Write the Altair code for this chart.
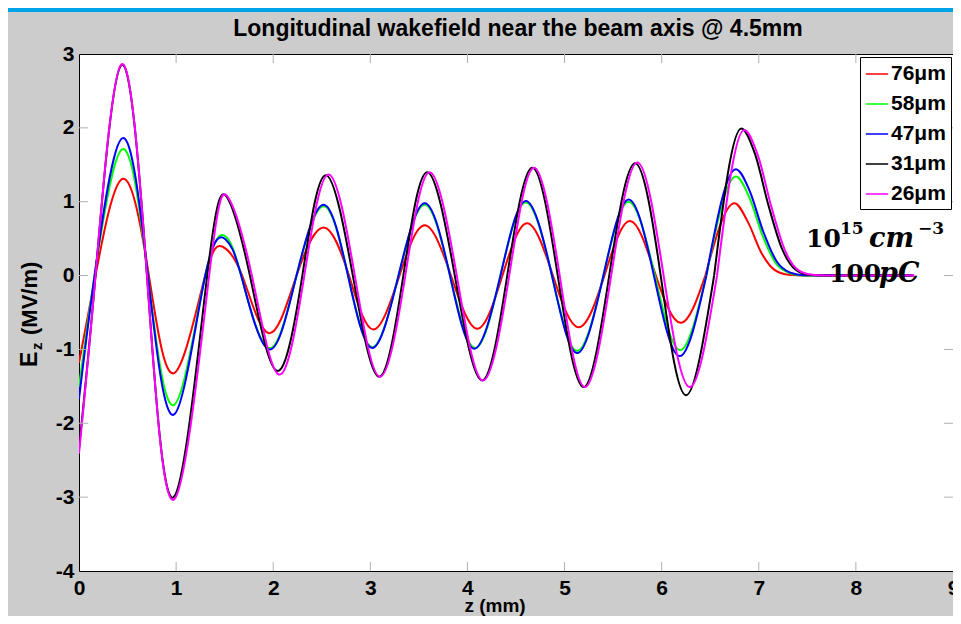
import altair as alt
import pandas as pd

# ---------------- data ----------------
labels = ["76μm", "58μm", "47μm", "31μm", "26μm"]
colors = ["#ff0000", "#00ff00", "#0000ff", "#000000", "#ff00ff"]

z_76 = [0, 0.17, 0.45, 0.72, 0.98, 1.30, 1.48, 1.68, 1.955, 2.24, 2.52, 2.78, 3.03, 3.30, 3.56, 3.83, 4.10, 4.36, 4.615, 4.88, 5.145, 5.41, 5.675, 5.94, 6.20, 6.45, 6.75,
        6.89, 7.03, 7.17, 7.31, 7.45, 8.57]
e_76 = [-1.18, 0, 1.31, 0, -1.32, 0, 0.39, 0, -0.78, 0, 0.65, 0, -0.73, 0, 0.68, 0, -0.72, 0, 0.71, 0, -0.70, 0, 0.74, 0, -0.64, 0, 0.98,
        0.72, 0.30, 0.07, 0.01, 0, 0]

z_58 = [0, 0.16, 0.447, 0.71, 0.98, 1.30, 1.51, 1.67, 1.955, 2.24, 2.52, 2.77, 3.02, 3.29, 3.56, 3.82, 4.08, 4.34, 4.60, 4.87, 5.13, 5.40, 5.66, 5.93, 6.19, 6.46, 6.765,
        6.905, 7.045, 7.185, 7.325, 7.465, 8.585]
e_58 = [-1.51, 0, 1.71, 0, -1.75, 0, 0.53, 0, -0.98, 0, 0.94, 0, -0.97, 0, 0.96, 0, -0.98, 0, 0.99, 0, -1.02, 0, 1.00, 0, -1.01, 0, 1.34,
        1.05, 0.52, 0.15, 0.03, 0, 0]

z_47 = [0, 0.16, 0.447, 0.71, 0.98, 1.30, 1.51, 1.67, 1.955, 2.24, 2.52, 2.77, 3.02, 3.29, 3.56, 3.82, 4.07, 4.34, 4.60, 4.87, 5.13, 5.40, 5.66, 5.92, 6.185, 6.46, 6.765,
        6.905, 7.045, 7.185, 7.325, 7.465, 8.585]
e_47 = [-1.67, 0, 1.86, 0, -1.88, 0, 0.49, 0, -1.00, 0, 0.96, 0, -0.98, 0, 0.98, 0, -0.99, 0, 1.01, 0, -1.05, 0, 1.03, 0, -1.09, 0, 1.44,
        1.15, 0.60, 0.19, 0.04, 0.005, 0]

z_31 = [0, 0.17, 0.437, 0.70, 0.975, 1.32, 1.52, 1.76, 2.04, 2.30, 2.54, 2.82, 3.09, 3.34, 3.585, 3.87, 4.15, 4.41, 4.667, 4.93, 5.195, 5.46, 5.725, 5.99, 6.25, 6.54, 6.82,
        6.96, 7.10, 7.24, 7.38, 7.52, 7.66, 8.60]
e_31 = [-2.35, 0, 2.85, 0, -3.00, 0, 1.07, 0, -1.29, 0, 1.36, 0, -1.37, 0, 1.40, 0, -1.42, 0, 1.46, 0, -1.51, 0, 1.52, 0, -1.62, 0, 1.99,
        1.65, 0.95, 0.36, 0.08, 0.01, 0, 0]

z_26 = [0, 0.17, 0.437, 0.70, 0.98, 1.34, 1.53, 1.78, 2.06, 2.32, 2.57, 2.84, 3.10, 3.36, 3.61, 3.89, 4.16, 4.43, 4.685, 4.95, 5.21, 5.48, 5.75, 6.02, 6.29, 6.57, 6.85,
        6.99, 7.13, 7.27, 7.41, 7.55, 7.69, 8.60]
e_26 = [-2.41, 0, 2.86, 0, -3.03, 0, 1.07, 0, -1.34, 0, 1.37, 0, -1.37, 0, 1.40, 0, -1.42, 0, 1.46, 0, -1.51, 0, 1.53, 0, -1.51, 0, 1.97,
        1.63, 0.93, 0.34, 0.07, 0.01, 0, 0]

# index of the last zero crossing before the final peak (start of the decaying tail)
tail_start = 25

x_ticks = [0, 1, 2, 3, 4, 5, 6, 7, 8, 9]
y_ticks = [-4, -3, -2, -1, 0, 1, 2, 3]
x_inner_ticks = [1, 2, 3, 4, 5, 6, 7, 8]
y_inner_ticks = [-3, -2, -1, 0, 1, 2]

title_text = "Longitudinal wakefield near the beam axis @ 4.5mm"

# ---------------- build tables ----------------
osc_rows, tail_rows = [], []
for lab, zs, es in zip(labels, [z_76, z_58, z_47, z_31, z_26], [e_76, e_58, e_47, e_31, e_26]):
    for i, (z, e) in enumerate(zip(zs, es)):
        r = {"series": lab, "z": z, "Ez": e, "i": i}
        if i <= tail_start:
            osc_rows.append(r)
        if i >= tail_start:
            tail_rows.append(r)
df_osc = pd.DataFrame(osc_rows)
df_tail = pd.DataFrame(tail_rows)

W, H = 874, 517
FONT = "Liberation Sans, Arial, sans-serif"
SERIF = "DejaVu Serif, serif"
TICKC = "#b0b0b0"

x_axis = alt.Axis(values=x_ticks, ticks=False, domain=False, grid=False, title=None,
                  labelFont=FONT, labelFontSize=21, labelFontWeight="bold",
                  labelColor="black", labelPadding=6, labelFlush=False,
                  labelExpr="'' + datum.value")
y_axis = alt.Axis(values=y_ticks, ticks=False, domain=False, grid=False, title=None,
                  labelFont=FONT, labelFontSize=21, labelFontWeight="bold",
                  labelColor="black", labelPadding=5, labelExpr="'' + datum.value")
xs = alt.Scale(domain=[0, 9], nice=False, zero=False)
ys = alt.Scale(domain=[-4, 3], nice=False, zero=False)

color_enc = alt.Color("series:N", sort=labels,
                      scale=alt.Scale(domain=labels, range=colors),
                      legend=alt.Legend(title=None, orient="none", legendX=781, legendY=3,
                                        fillColor="white", strokeColor="black", padding=5,
                                        symbolType="stroke", symbolSize=500,
                                        symbolStrokeWidth=1.5, labelFont=FONT,
                                        labelFontSize=21, labelFontWeight="bold",
                                        labelColor="black", labelOffset=2, rowPadding=8))

osc = alt.Chart(df_osc).mark_line(interpolate="natural", strokeWidth=2, clip=True).encode(
    x=alt.X("z:Q", scale=xs, axis=x_axis),
    y=alt.Y("Ez:Q", scale=ys, axis=y_axis),
    color=color_enc,
    order=alt.Order("i:Q"),
)
tail = alt.Chart(df_tail).mark_line(interpolate="monotone", strokeWidth=2, clip=True).encode(
    x=alt.X("z:Q", scale=xs, axis=x_axis),
    y=alt.Y("Ez:Q", scale=ys, axis=y_axis),
    color=color_enc,
    order=alt.Order("i:Q"),
)

xt_df = pd.DataFrame({"xt": x_inner_ticks})
yt_df = pd.DataFrame({"yt": y_inner_ticks})

tick_b = alt.Chart(xt_df).mark_rule(color=TICKC, strokeWidth=1).encode(
    x=alt.X("xt:Q", scale=xs, axis=x_axis), y=alt.value(H - 9), y2=alt.value(H))
tick_t = alt.Chart(xt_df).mark_rule(color=TICKC, strokeWidth=1).encode(
    x=alt.X("xt:Q", scale=xs, axis=x_axis), y=alt.value(0), y2=alt.value(9))
tick_l = alt.Chart(yt_df).mark_rule(color=TICKC, strokeWidth=1).encode(
    y=alt.Y("yt:Q", scale=ys, axis=y_axis), x=alt.value(0), x2=alt.value(9))
tick_r = alt.Chart(yt_df).mark_rule(color=TICKC, strokeWidth=1).encode(
    y=alt.Y("yt:Q", scale=ys, axis=y_axis), x=alt.value(W - 9), x2=alt.value(W))

one = pd.DataFrame({"a": [0]})


def txt(s, x, y, size, font=FONT, weight="bold", style="normal", angle=0, align="left", color="black"):
    return alt.Chart(one).mark_text(text=s, font=font, fontSize=size, fontWeight=weight,
                                    fontStyle=style, angle=angle, align=align,
                                    baseline="alphabetic", color=color).encode(
        x=alt.value(x), y=alt.value(y))


title = txt(title_text, 439, -18, 23, align="center")
xtitle = txt("z (mm)", 416, 558, 19, align="center")
ytitle_E = txt("E", -42, 313, 23, angle=270)
ytitle_z = txt("z", -37, 296, 15, angle=270)
ytitle_u = txt("(MV/m)", -42, 281, 22, angle=270)

a1 = txt("10", 727, 193, 25, font=SERIF)
a2 = txt("15", 761, 180, 17, font=SERIF)
a3 = txt("cm", 790, 193, 27, font=SERIF, style="italic")
a4 = txt("−3", 839, 180, 17, font=SERIF)
a5 = txt("100", 750, 228, 25, font=SERIF)
a6 = txt("pC", 800, 228, 27, font=SERIF, style="italic")

strip = alt.Chart(one).mark_rect(color="#00a2e8").encode(
    x=alt.value(-71), x2=alt.value(W), y=alt.value(-46), y2=alt.value(-42))

chart = alt.layer(
    osc, tail, tick_b, tick_t, tick_l, tick_r,
    title, xtitle, ytitle_E, ytitle_z, ytitle_u,
    a1, a2, a3, a4, a5, a6, strip,
).properties(
    width=W, height=H,
    autosize=alt.AutoSizeParams(type="none"),
    padding={"left": 71, "top": 46, "right": 0, "bottom": 45},
    background="#cccccc",
).configure_view(
    stroke="black", strokeWidth=1, fill="white"
)

chart.save("out.html", embed_options={"renderer": "svg", "actions": False})
